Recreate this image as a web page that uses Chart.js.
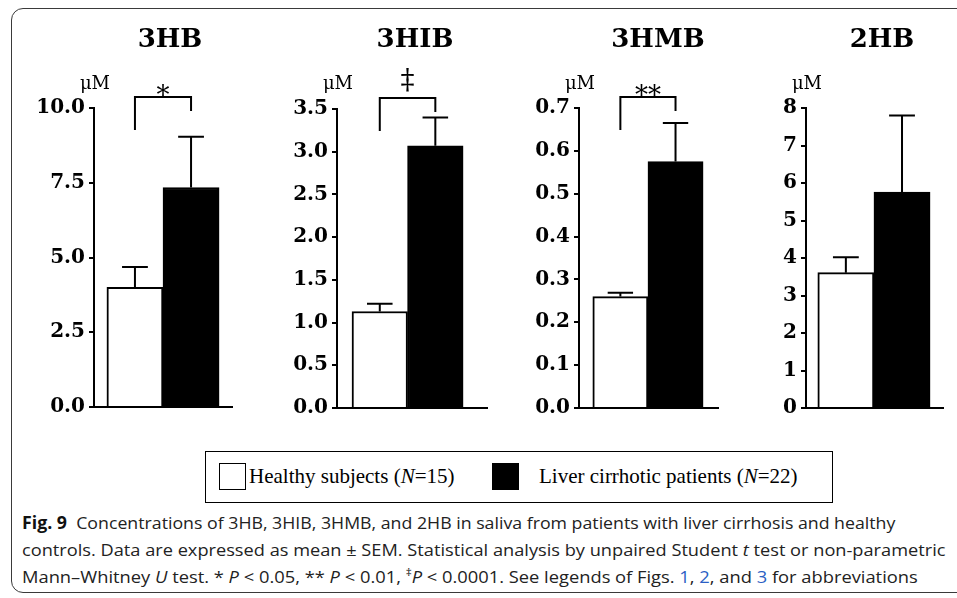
<!DOCTYPE html>
<html>
<head>
<meta charset="utf-8">
<script src="https://cdn.jsdelivr.net/npm/chart.js@4.4.1/dist/chart.umd.min.js"></script>
<style>
  body { margin: 0; background: #fff; width: 957px; height: 598px; overflow: hidden; position: relative; }
  .frame { position: absolute; left: 11px; top: 8px; width: 1000px; height: 583px; border: 1.5px solid #3a3a3a; border-radius: 12px; }
  canvas { position: absolute; }
  .title { position: absolute; top: 23px; width: 120px; margin-left: -60px; text-align: center; font: bold 26px "DejaVu Serif"; color: #000; }
  .unit { position: absolute; top: 72px; width: 60px; margin-left: -30px; text-align: center; font: 18px "DejaVu Serif"; color: #000; }
  .legend { position: absolute; left: 205px; top: 451px; width: 626px; height: 50px; border: 1.5px solid #000; font: 21px "Liberation Serif"; color: #000; }
  .legend .sw { position: absolute; top: 11px; width: 25px; height: 25px; border: 1.5px solid #000; }
  .legend .lab { position: absolute; top: 12px; white-space: nowrap; }
  .caption { position: absolute; left: 22px; font: 17px "Open Sans"; color: #222; white-space: nowrap; transform-origin: 0 0; }
  .caption b { color: #111; }
  .caption a { color: #2b5fc4; }
</style>
</head>
<body>
<div class="frame"></div>

<div class="legend">
  <div class="sw" style="left:13px;background:#fff"></div>
  <div class="lab" id="lab0" style="left:43px"></div>
  <div class="sw" style="left:286px;background:#000"></div>
  <div class="lab" id="lab1" style="left:333px"></div>
</div>

<div class="caption" id="cap0" style="top:511px"><b>Fig. 9</b>&nbsp; Concentrations of 3HB, 3HIB, 3HMB, and 2HB in saliva from patients with liver cirrhosis and healthy</div>
<div class="caption" id="cap1" style="top:538px">controls. Data are expressed as mean ± SEM. Statistical analysis by unpaired Student <i>t</i> test or non-parametric</div>
<div class="caption" id="cap2" style="top:564px">Mann–Whitney <i>U</i> test. * <i>P</i> &lt; 0.05, ** <i>P</i> &lt; 0.01, <sup style="font-size:11px">‡</sup><i>P</i> &lt; 0.0001. See legends of Figs. <a>1</a>, <a>2</a>, and <a>3</a> for abbreviations</div>

<script>
// data (mean and SEM, µM)
const metabolites = ['3HB', '3HIB', '3HMB', '2HB'];
const groups = ['Healthy subjects (N=15)', 'Liver cirrhotic patients (N=22)'];
const healthyMean = [4.0, 1.13, 0.26, 3.61];
const healthySem = [0.68, 0.09, 0.009, 0.41];
const cirrhoticMean = [7.34, 3.07, 0.575, 5.76];
const cirrhoticSem = [1.70, 0.33, 0.09, 2.04];
const significance = ['*', '‡', '**', ''];
const yMax = [10, 3.5, 0.7, 8];
const yStep = [2.5, 0.5, 0.1, 1];
const yDecimals = [1, 1, 1, 0];

// panel placement on the page
const panels = [
  { axisX: 94,  right: 232, top: 108, bottom: 409, xMin: 0.27, xMax: 2.73, titleX: 170 },
  { axisX: 337, right: 487, top: 109, bottom: 410, xMin: 0.23, xMax: 2.93, titleX: 415 },
  { axisX: 579, right: 718, top: 108, bottom: 410, xMin: 0.25, xMax: 2.77, titleX: 658 },
  { axisX: 806, right: 943, top: 108, bottom: 410, xMin: 0.29, xMax: 2.73, titleX: 882 }
];

// legend labels with italic N
document.getElementById('lab0').innerHTML = groups[0].replace('N=', '<i>N</i>=');
document.getElementById('lab1').innerHTML = groups[1].replace('N=', '<i>N</i>=');

const yAxisW = 70, canvasTop = 50, padR = 6;

// error bars + significance bracket
const extras = {
  id: 'extras',
  afterDatasetsDraw(chart) {
    const ctx = chart.ctx;
    const y = chart.scales.y;
    const bars = chart.getDatasetMeta(0).data;
    const sems = chart.config.options.sems;
    ctx.save();
    ctx.strokeStyle = '#000';
    ctx.lineWidth = 2;
    bars.forEach((bar, i) => {
      const v = chart.data.datasets[0].data[i].y;
      const yt = y.getPixelForValue(v + sems[i]);
      const half = bar.width * 0.23;
      ctx.beginPath();
      ctx.moveTo(bar.x, bar.y);
      ctx.lineTo(bar.x, yt);
      ctx.moveTo(bar.x - half, yt);
      ctx.lineTo(bar.x + half, yt);
      ctx.stroke();
    });
    const sig = chart.config.options.sig;
    if (sig) {
      const top = chart.chartArea.top - 11;
      const x0 = bars[0].x, x1 = bars[1].x;
      ctx.beginPath();
      ctx.moveTo(x0, top + 33);
      ctx.lineTo(x0, top);
      ctx.lineTo(x1, top);
      ctx.lineTo(x1, top + 14);
      ctx.stroke();
      ctx.fillStyle = '#000';
      ctx.textAlign = 'center';
      ctx.textBaseline = 'alphabetic';
      if (sig === '‡') {
        ctx.font = '28px "DejaVu Serif"';
        ctx.fillText(sig, (x0 + x1) / 2, top - 9);
      } else {
        ctx.font = '26px "DejaVu Serif"';
        ctx.fillText(sig, (x0 + x1) / 2, top + 7);
      }
    }
    ctx.restore();
  }
};

metabolites.forEach((name, k) => {
  const p = panels[k];
  const cv = document.createElement('canvas');
  cv.width = yAxisW + (p.right - p.axisX) + padR;
  cv.height = p.bottom - canvasTop + 14;
  cv.style.left = (p.axisX - yAxisW) + 'px';
  cv.style.top = canvasTop + 'px';
  document.body.appendChild(cv);

  const t = document.createElement('div');
  t.className = 'title'; t.textContent = name; t.style.left = p.titleX + 'px';
  document.body.appendChild(t);
  const u = document.createElement('div');
  u.className = 'unit'; u.textContent = 'μM'; u.style.left = (p.axisX + 1) + 'px';
  document.body.appendChild(u);

  const chart = new Chart(cv, {
    type: 'bar',
    data: {
      datasets: [{
        label: name,
        data: [{ x: 1, y: healthyMean[k] }, { x: 2, y: cirrhoticMean[k] }],
        backgroundColor: ['#fff', '#000'],
        borderColor: '#000',
        borderWidth: 2,
        categoryPercentage: 1,
        barPercentage: 1
      }]
    },
    options: {
      responsive: false,
      animation: false,
      sems: [healthySem[k], cirrhoticSem[k]],
      sig: significance[k],
      layout: { padding: { top: p.top - canvasTop, bottom: 14, left: 0, right: padR } },
      plugins: { legend: { display: false }, tooltip: { enabled: false } },
      scales: {
        x: {
          type: 'linear',
          offset: false,
          min: p.xMin, max: p.xMax,
          afterBuildTicks: s => { s.ticks = [{ value: 1 }, { value: 2 }]; },
          afterFit: s => { s.height = 0; },
          ticks: { display: false },
          grid: { display: false, offset: false },
          border: { display: true, color: '#000', width: 2 }
        },
        y: {
          min: 0, max: yMax[k],
          afterFit: s => { s.width = yAxisW; },
          ticks: {
            stepSize: yStep[k],
            color: '#000',
            padding: 4,
            font: { family: 'DejaVu Serif', size: 20, weight: 'bold' },
            callback: v => v.toFixed(yDecimals[k])
          },
          grid: { display: true, drawOnChartArea: false, tickLength: 5, color: '#000', lineWidth: 2 },
          border: { display: true, color: '#000', width: 2 }
        }
      }
    },
    plugins: [extras]
  });

  // nudge the padding so the plot area lands where the figure has it
  for (let it = 0; it < 3; it++) {
    const ca = chart.chartArea;
    const pad = chart.options.layout.padding;
    const dTop = (p.top - canvasTop) - ca.top;
    const dBot = ca.bottom - (p.bottom - canvasTop);
    if (Math.abs(dTop) < 0.5 && Math.abs(dBot) < 0.5) break;
    pad.top += dTop;
    pad.bottom += dBot;
    chart.update();
  }
});

// squeeze caption lines to the width of the condensed typeface in the figure
const capWidths = [873, 923, 896];
capWidths.forEach((tw, i) => {
  const el = document.getElementById('cap' + i);
  el.style.transform = 'scaleX(' + (tw / el.offsetWidth) + ')';
});
</script>
</body>
</html>
